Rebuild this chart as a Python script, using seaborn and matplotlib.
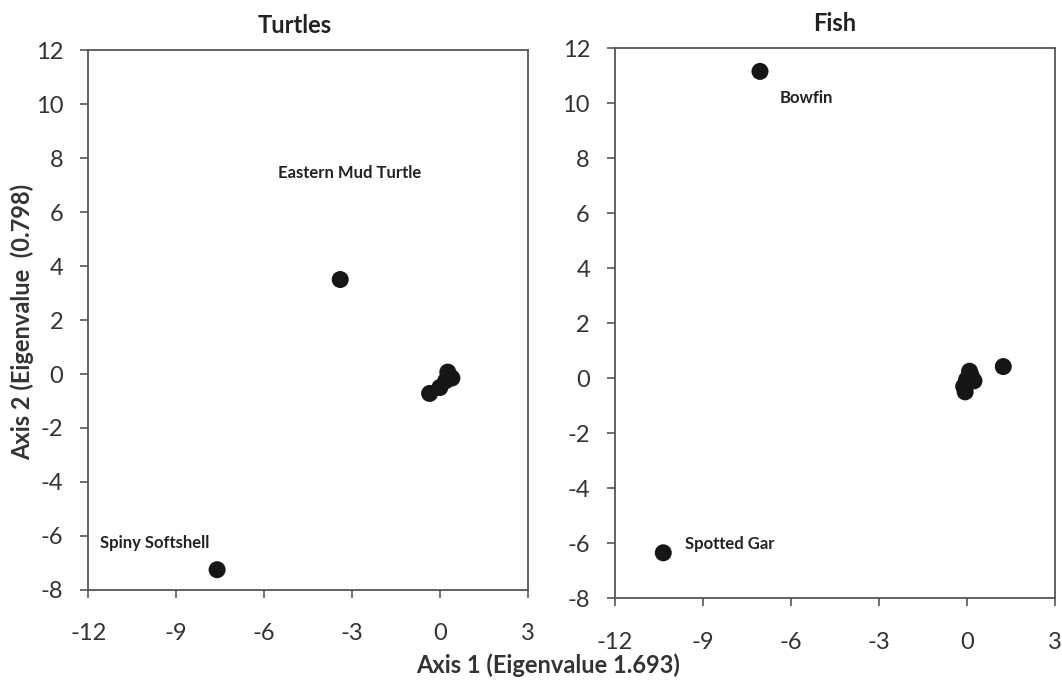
import matplotlib
matplotlib.use("Agg")
import matplotlib.pyplot as plt
import seaborn as sns
import pandas as pd

# ordination scores
turtle_x = [-3.4, -7.6, -0.35, 0.0, 0.27, 0.41, 0.2]
turtle_y = [3.5, -7.25, -0.72, -0.5, 0.07, -0.15, -0.25]
fish_x = [-7.05, -10.35, 1.25, 0.1, -0.05, 0.25, 0.15, -0.1, 0.0]
fish_y = [11.15, -6.35, 0.42, 0.25, -0.5, -0.1, 0.1, -0.3, -0.05]

turtle_labels = {"Eastern Mud Turtle": 0, "Spiny Softshell": 1}
fish_labels = {"Bowfin": 0, "Spotted Gar": 1}
# label offsets (points) relative to the labelled marker
label_offsets = {
    "Eastern Mud Turtle": (-45, 77),
    "Spiny Softshell": (-84, 19),
    "Bowfin": (14, -19),
    "Spotted Gar": (16, 6),
}

x_ticks = [-12, -9, -6, -3, 0, 3]
y_ticks = [-8, -6, -4, -2, 0, 2, 4, 6, 8, 10, 12]

sns.set_style("white")
plt.rcParams["font.family"] = ["Lato", "DejaVu Sans"]
plt.rcParams["axes.unicode_minus"] = False

fig = plt.figure(figsize=(10.62, 6.86), dpi=100)
ax1 = fig.add_axes([0.083, 0.140, 0.414, 0.787])
ax2 = fig.add_axes([0.579, 0.128, 0.414, 0.802])

panels = [
    (ax1, "Turtles", turtle_x, turtle_y, turtle_labels, 0.47),
    (ax2, "Fish", fish_x, fish_y, fish_labels, 0.5),
]

for ax, title, xs, ys, labels, tx in panels:
    df = pd.DataFrame({"x": xs, "y": ys})
    sns.scatterplot(data=df, x="x", y="y", ax=ax, s=150, color="#161616",
                    edgecolor="none", legend=False)
    for name, idx in labels.items():
        ax.annotate(name, (xs[idx], ys[idx]), xytext=label_offsets[name],
                    textcoords="offset points", fontsize=12, fontweight="bold",
                    color="#222222", va="center", ha="left")
    ax.set_xlim(-12, 3)
    ax.set_ylim(-8, 12)
    ax.set_xticks(x_ticks)
    ax.set_yticks(y_ticks)
    ax.set_xlabel("")
    ax.set_ylabel("")
    ax.set_title(title, fontsize=17, fontweight="bold", color="#222222",
                 pad=12, x=tx)
    for sp in ax.spines.values():
        sp.set_color("#555555")
        sp.set_linewidth(1.3)
    ax.tick_params(axis="x", which="both", bottom=True, direction="out",
                   length=6, width=1.2, color="#555555", labelsize=17,
                   pad=18, labelcolor="#333333")
    ax.tick_params(axis="y", which="both", left=True, direction="out",
                   length=6, width=1.2, color="#555555", labelsize=17,
                   pad=12, labelcolor="#333333")

fig.text(0.516, 0.030, "Axis 1 (Eigenvalue 1.693)", ha="center", va="center",
         fontsize=17, fontweight="bold", color="#333333")
fig.text(0.021, 0.53, "Axis 2 (Eigenvalue  (0.798)", ha="center", va="center",
         rotation=90, fontsize=17, fontweight="bold", color="#333333")

fig.savefig("out.png", dpi=100)
